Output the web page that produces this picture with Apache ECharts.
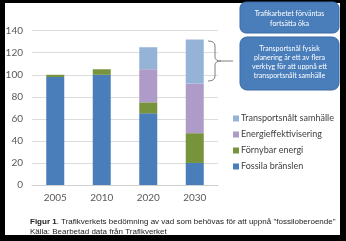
<!DOCTYPE html>
<html><head><meta charset="utf-8">
<script src="https://cdn.jsdelivr.net/npm/echarts@6/dist/echarts.min.js"></script>
<style>html,body{margin:0;padding:0;background:#000;}#c{width:346px;height:241px;}</style>
</head><body><div id="c"></div>
<script>
const categories = ['2005','2010','2020','2030'];
const fossila = [98, 100, 65, 20];
const fornybar = [2, 5, 10, 27];
const energieff = [0, 0, 30, 45];
const transportsnalt = [0, 0, 20, 40];
const yTicks = [0,20,40,60,80,100,120,140];
const legendOrder = ['Transportsnålt samhälle','Energieffektivisering','Förnybar energi','Fossila bränslen'];

const chart = echarts.init(document.getElementById('c'), null, {renderer:'canvas'});
const barW = 18;
const braceStyle = {stroke: '#7f7f7f', fill: null, lineWidth: 1};
function bz(x1,y1,cx,cy,x2,y2){return {type:'bezierCurve', z:10, shape:{x1:x1,y1:y1,cpx1:cx,cpy1:cy,x2:x2,y2:y2}, style: braceStyle};}
function ln(x1,y1,x2,y2){return {type:'line', z:10, shape:{x1:x1,y1:y1,x2:x2,y2:y2}, style: braceStyle};}
chart.setOption({
  backgroundColor: '#000',
  animation: false,
  grid: {left: 32, right: 128, top: 30.7, bottom: 56},
  xAxis: {
    type: 'category', data: categories,
    axisLine: {lineStyle: {color: '#d0d0d0'}},
    axisTick: {show: false},
    axisLabel: {color: '#595959', fontFamily: 'Lato', fontSize: 10, margin: 8}
  },
  yAxis: {
    type: 'value', min: 0, max: 140, interval: 20,
    axisLine: {show: false}, axisTick: {show: false},
    splitLine: {lineStyle: {color: '#dcdcdc'}},
    axisLabel: {color: '#595959', fontFamily: 'Lato', fontSize: 10, margin: 9}
  },
  legend: {
    orient: 'vertical', left: 228, top: 109, itemWidth: 6, itemHeight: 6, itemGap: 7,
    data: legendOrder,
    icon: 'rect',
    textStyle: {color: '#404040', fontFamily: 'Lato', fontSize: 9, padding: [0,0,0,-3], lineHeight: 9}
  },
  series: [
    {name: 'Fossila bränslen', type: 'bar', stack: 's', barWidth: barW, data: fossila, itemStyle: {color: '#4A7EBB'}},
    {name: 'Förnybar energi', type: 'bar', stack: 's', barWidth: barW, data: fornybar, itemStyle: {color: '#77933C'}},
    {name: 'Energieffektivisering', type: 'bar', stack: 's', barWidth: barW, data: energieff, itemStyle: {color: '#AE9BC7'}},
    {name: 'Transportsnålt samhälle', type: 'bar', stack: 's', barWidth: barW, data: transportsnalt, itemStyle: {color: '#95B3D7'}}
  ],
  graphic: [
    {type: 'rect', z: -10, shape: {x: 5, y: 3, width: 335, height: 232}, style: {fill: '#fff'}},
    {type: 'rect', z: 10, shape: {x: 240, y: 2, width: 99, height: 31, r: 6}, style: {fill: '#4A7EBB', stroke: '#3a6aa5', lineWidth: 1}},
    {type: 'text', z: 11, left: 240, top: 9, style: {text: 'Trafikarbetet förväntas\nfortsätta öka', fill: '#fff', font: '7px Lato', textAlign: 'center', width: 99, lineHeight: 10}},
    {type: 'rect', z: 10, shape: {x: 240, y: 37, width: 99, height: 53, r: 7}, style: {fill: '#4A7EBB', stroke: '#3a6aa5', lineWidth: 1}},
    {type: 'text', z: 11, left: 240, top: 44, style: {text: 'Transportsnål fysisk\nplanering är ett av flera\nverktyg för att uppnå ett\ntransportsnålt samhälle', fill: '#fff', font: '7px Lato', textAlign: 'center', width: 99, lineHeight: 9}},
    bz(208,41,215,41,215,46), ln(215,46,215,57), bz(215,57,215,61,221,61),
    bz(221,61,215,61,215,65), ln(215,65,215,76), bz(215,76,215,81,208,81),
    ln(221,61,233,61),
    {type: 'text', z: 11, left: 30, top: 218, style: {rich: {b: {font: 'bold 8px "Liberation Sans"', fill: '#222'}, n: {font: '8px "Liberation Sans"', fill: '#222'}}, text: '{b|Figur 1}{n|. Trafikverkets bedömning av vad som behövas för att uppnå "fossiloberoende"}'}},
    {type: 'text', z: 11, left: 30, top: 228, style: {text: 'Källa: Bearbetad data från Trafikverket', font: '8px "Liberation Sans"', fill: '#222'}}
  ]
});
</script></body></html>
